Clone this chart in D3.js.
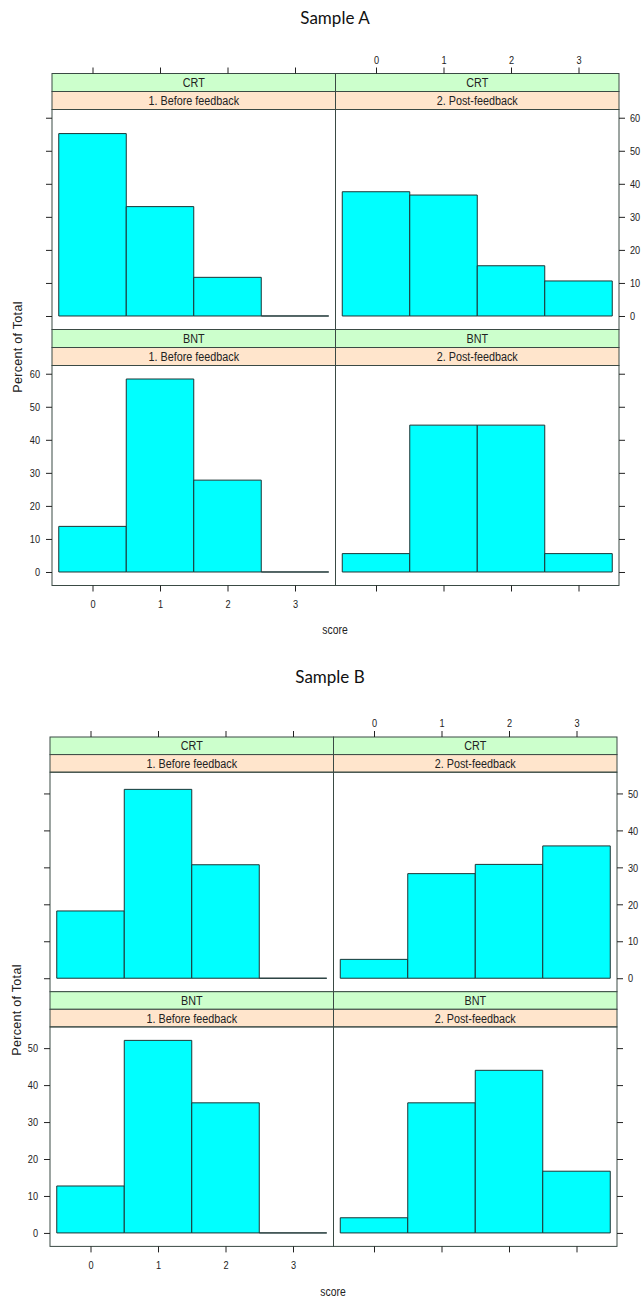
<!DOCTYPE html>
<html>
<head>
<meta charset="utf-8">
<script src="https://cdn.jsdelivr.net/npm/d3@7"></script>
<style>
  html, body { margin: 0; padding: 0; background: #fff; }
  svg { display: block; }
</style>
</head>
<body>
<svg id="chart" width="641" height="1302"></svg>
<script>
// ---------- data ----------
const scores = [0, 1, 2, 3];
const tests = ["CRT", "BNT"];
const phases = ["1. Before feedback", "2. Post-feedback"];
const xTickLabels = ["0", "1", "2", "3"];

const sampleA_CRT_before = [55.2, 33.1, 11.7, 0];
const sampleA_CRT_post   = [37.6, 36.6, 15.2, 10.6];
const sampleA_BNT_before = [13.8, 58.4, 27.8, 0];
const sampleA_BNT_post   = [5.56, 44.44, 44.44, 5.56];

const sampleB_CRT_before = [18.2, 51.1, 30.7, 0];
const sampleB_CRT_post   = [5.1, 28.3, 30.8, 35.8];
const sampleB_BNT_before = [12.7, 52.1, 35.2, 0];
const sampleB_BNT_post   = [4.1, 35.2, 44.0, 16.7];

const yTicksA = [0, 10, 20, 30, 40, 50, 60];
const yTicksB = [0, 10, 20, 30, 40, 50];

const titles = ["Sample A", "Sample B"];
const xLabel = "score";
const yLabel = "Percent of Total";

// ---------- styles ----------
const svg = d3.select("#chart");
const sans = "'Liberation Sans', Arial, sans-serif";
const colGreen = "#ccffcc", colPeach = "#ffe5cc", colBar = "#00ffff";
const lineCol = "#3a4a44";
const squeeze = 0.8;

function condensedText(sel, x, y, size, txt, anchor) {
  return sel.append("text")
    .attr("transform", `translate(${x},${y}) scale(${squeeze},1)`)
    .attr("text-anchor", anchor || "middle").attr("dominant-baseline", "middle")
    .style("font-family", sans).style("font-size", size + "px").style("fill", "#222")
    .text(txt);
}

function drawSample(cfg, values, yTicks) {
  const g = svg.append("g");
  const { left, top, stripH, panelH, colW } = cfg;

  // title
  g.append("text")
    .attr("x", cfg.titleX).attr("y", cfg.titleY)
    .attr("text-anchor", "middle").attr("dominant-baseline", "middle")
    .style("font-family", "Lato, 'Open Sans', sans-serif")
    .style("font-size", "17px").style("fill", "#111")
    .text(cfg.title);

  const allVals = [].concat(...values.map(r => [].concat(...r)));
  const vmax = d3.max(allVals);
  const xDomain = [-0.6, 3.6];

  values.forEach((row, r) => {
    const rowTop = top + r * (2 * stripH + panelH);
    const panelTop = rowTop + 2 * stripH;
    const panelBottom = panelTop + panelH;
    const y = d3.scaleLinear().domain([-0.07 * vmax, 1.07 * vmax]).range([panelBottom, panelTop]);

    row.forEach((vals, c) => {
      const colLeft = left + c * colW;
      const x = d3.scaleLinear().domain(xDomain).range([colLeft, colLeft + colW]);
      const pg = g.append("g");

      // strips
      pg.append("rect").attr("x", colLeft).attr("y", rowTop).attr("width", colW).attr("height", stripH)
        .attr("fill", colGreen).attr("stroke", lineCol).attr("stroke-width", 1);
      condensedText(pg, colLeft + colW / 2, rowTop + stripH / 2 + 1, 13.5, tests[r]);
      pg.append("rect").attr("x", colLeft).attr("y", rowTop + stripH).attr("width", colW).attr("height", stripH)
        .attr("fill", colPeach).attr("stroke", lineCol).attr("stroke-width", 1);
      condensedText(pg, colLeft + colW / 2, rowTop + stripH * 1.5 + 1, 13.5, phases[c]);

      // bars
      pg.selectAll("path.bar").data(vals).enter().append("path")
        .attr("class", "bar")
        .attr("d", (v, i) => {
          const x0 = x(scores[i] - 0.5), x1 = x(scores[i] + 0.5);
          const y0 = y(0), y1 = y(v);
          return `M${x0},${y0}V${y1}H${x1}V${y0}Z`;
        })
        .attr("fill", colBar).attr("stroke", "#1d3535").attr("stroke-width", 1);

      // panel border
      pg.append("rect").attr("x", colLeft).attr("y", panelTop).attr("width", colW).attr("height", panelH)
        .attr("fill", "none").attr("stroke", lineCol).attr("stroke-width", 1);

      // axes
      const tickStyle = sel => {
        sel.select(".domain").remove();
        sel.selectAll(".tick line").attr("stroke", "#222");
        sel.selectAll(".tick text").style("font-family", sans).style("font-size", "11.5px").style("fill", "#222");
      };
      const squeezeText = sel => {
        sel.selectAll(".tick text").each(function () {
          const t = d3.select(this);
          const tx = +t.attr("x") || 0;
          t.attr("x", tx / squeeze).attr("transform", `scale(${squeeze},1)`);
        });
      };
      if (r === 0) {
        const ax = d3.axisTop(x).tickValues(scores).tickSize(6).tickPadding(4)
          .tickFormat(c === 1 ? (d, i) => xTickLabels[i] : () => "");
        g.append("g").attr("transform", `translate(0,${rowTop})`).call(ax).call(tickStyle).call(squeezeText);
      }
      if (r === values.length - 1) {
        const ax = d3.axisBottom(x).tickValues(scores).tickSize(6).tickPadding(8)
          .tickFormat(c === 0 ? (d, i) => xTickLabels[i] : () => "");
        g.append("g").attr("transform", `translate(0,${panelBottom})`).call(ax).call(tickStyle).call(squeezeText);
      }
      if (c === 0) {
        const ay = d3.axisLeft(y).tickValues(yTicks).tickSize(6).tickPadding(6)
          .tickFormat(r === 1 ? d3.format("d") : () => "");
        g.append("g").attr("transform", `translate(${colLeft},0)`).call(ay).call(tickStyle).call(squeezeText);
      }
      if (c === row.length - 1) {
        const ay = d3.axisRight(y).tickValues(yTicks).tickSize(6).tickPadding(5)
          .tickFormat(r === 0 ? d3.format("d") : () => "");
        g.append("g").attr("transform", `translate(${colLeft + colW},0)`).call(ay).call(tickStyle).call(squeezeText);
      }
    });
  });

  // axis titles
  condensedText(g, cfg.xLabX, cfg.xLabY, 13, xLabel);
  g.append("text")
    .attr("transform", `translate(${cfg.yLabX},${cfg.yLabY}) rotate(-90)`)
    .attr("text-anchor", "middle").attr("dominant-baseline", "middle")
    .style("font-family", sans).style("font-size", "12.5px").style("fill", "#222")
    .style("letter-spacing", "0.3px")
    .text(yLabel);
}

drawSample(
  { title: titles[0], titleX: 335, titleY: 20, left: 52, top: 73.5, stripH: 18, panelH: 220, colW: 283.5,
    xLabX: 335, xLabY: 631, yLabX: 19, yLabY: 347 },
  [[sampleA_CRT_before, sampleA_CRT_post], [sampleA_BNT_before, sampleA_BNT_post]],
  yTicksA
);
drawSample(
  { title: titles[1], titleX: 330, titleY: 679, left: 50, top: 737, stripH: 17.6, panelH: 219.5, colW: 283.5,
    xLabX: 333, xLabY: 1293, yLabX: 18, yLabY: 1010 },
  [[sampleB_CRT_before, sampleB_CRT_post], [sampleB_BNT_before, sampleB_BNT_post]],
  yTicksB
);
</script>
</body>
</html>
